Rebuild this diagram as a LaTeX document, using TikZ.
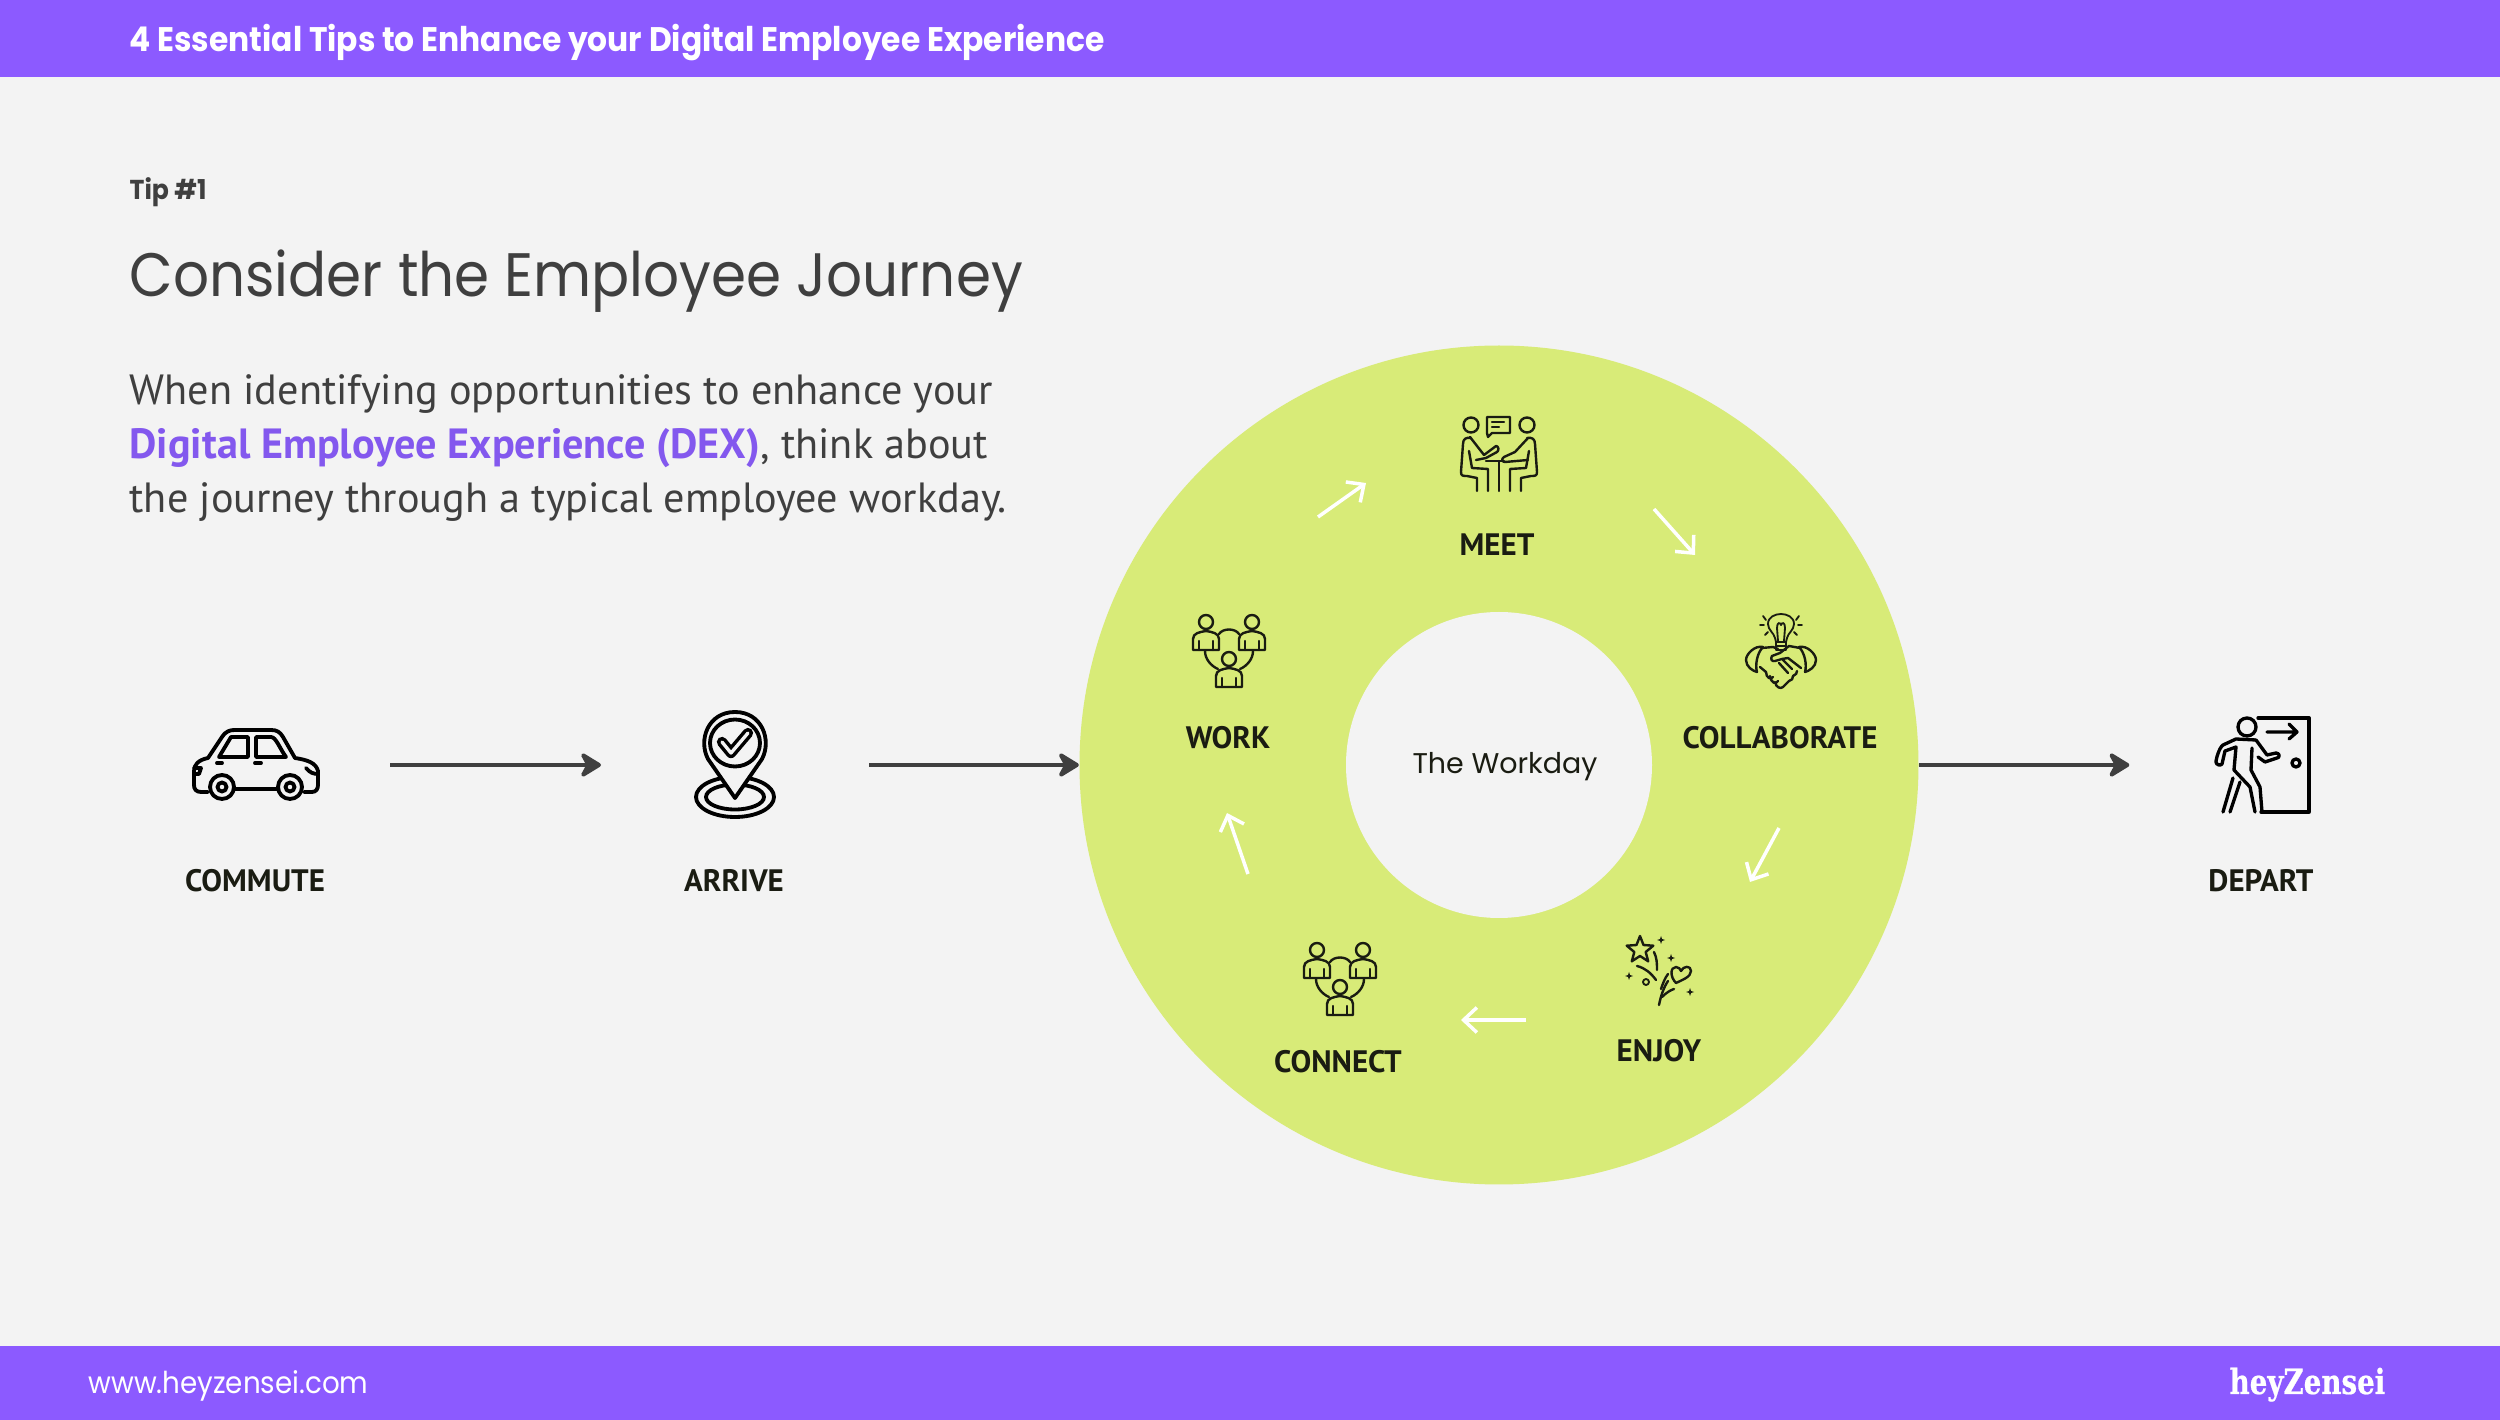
\documentclass[tikz,border=0pt]{standalone}
\usepackage{fontspec}
\setmainfont{PT Sans}
\newfontfamily\popfont{Poppins}
\newfontfamily\narrowfont{Poppins}[FakeStretch=0.92]
\newfontfamily\logofont{DejaVu Serif}[FakeStretch=0.8, FakeBold=0.6]
\usetikzlibrary{arrows.meta}

\definecolor{barcol}{HTML}{8C5AFF}
\definecolor{pagecol}{HTML}{F3F3F3}
\definecolor{ringcol}{HTML}{D8EB78}
\definecolor{inkcol}{HTML}{3F3F3F}
\definecolor{dexcol}{HTML}{8358EE}
\definecolor{labelcol}{HTML}{1A1C12}

\tikzset{
    icon/.style={line width=.72pt, line join=round, line cap=round, labelcol},
    thinicon/.style={line width=.55pt, line join=round, line cap=round, labelcol},
    dooricon/.style={line width=1pt, line join=round, line cap=round, black},
    heavyicon/.style={line width=1.15pt, line join=round, line cap=round, black},
    stepname/.style={font=\bfseries\fontsize{9.3}{11}\selectfont, text=labelcol, inner sep=0pt},
    bodytext/.style={anchor=base west, inner sep=0pt, text=inkcol, font=\fontsize{12.67}{15}\selectfont},
    placeholder/.style={minimum width=80pt, minimum height=20pt, inner sep=0pt},
    flow/.style={-{Stealth[length=7.4pt,width=9pt,round]}, line width=1.2pt, inkcol},
    whitearrow/.style={-{Straight Barb[length=4pt,width=7.5pt]}, line width=1.05pt, white},
    pics/team/.style={code={
        \foreach \px/\py in {-23/-29, 23/-29, 0/8} {
            \draw[icon, shift={(\px,\py)}] (0,0) circle (7);
            \draw[icon, shift={(\px,\py)}] (-13,28) -- (-13,17) .. controls (-13,11) and (-6,10) .. (0,9)
                .. controls (6,10) and (13,11) .. (13,17) -- (13,28) -- cycle;
            \draw[icon, shift={(\px,\py)}] (-7,28) -- (-7,19) (7,28) -- (7,19);
        }
        \draw[icon] (-10,-17) .. controls (-6,-23) and (6,-23) .. (10,-17);
        \draw[icon] (-24,0) .. controls (-24,8) and (-18,15) .. (-11,18);
        \draw[icon] (24,0) .. controls (24,8) and (18,15) .. (11,18);
    }},
    pics/meeting/.style={code={
        \draw[icon] (-12,-37) -- (11,-37) -- (11,-21) -- (-7,-21) -- (-11,-17) -- (-12,-21) -- cycle;
        \draw[icon] (-7,-32) -- (5,-32) (-7,-27) -- (0,-27);
        \draw[icon] (0,7) -- (0,37) (-13,7) -- (5,7);
        \draw[icon] (-29,-17) -- (-15,1) -- (-3,-8) .. controls (0,-8) and (0,-3) .. (-2,-2) -- (-13,4) -- (-23,6);
        \draw[icon] (29,-16) -- (16,-2) -- (5,3) .. controls (2,5) and (3,8) .. (6,8) -- (29,6);
        \foreach \s in {1,-1} {
            \begin{scope}[xscale=\s]
                \draw[icon] (-28,-29) circle (7.5);
                \draw[icon] (-28,-16) .. controls (-33,-17) and (-36,-15) .. (-36,-10) -- (-38,18)
                    .. controls (-38,22) and (-36,22) .. (-32,22) -- (-22,24) -- (-22,37);
                \draw[icon] (-30,-3) -- (-27,14) -- (-11,15) -- (-11,37);
            \end{scope}
        }
    }},
    pics/handshake/.style={code={
        \draw[thinicon] (-5,-1) -- (5,-1) -- (5,-9) -- (-5,-9) -- cycle (-5,-5) -- (5,-5);
        \foreach \s in {1,-1} {
            \begin{scope}[xscale=\s]
                \draw[thinicon] (5,-9) -- (6,-13) .. controls (7,-18) and (13,-21) .. (13,-27)
                    .. controls (13,-34) and (6,-37) .. (0,-37);
                \draw[thinicon] (3,-10) -- (4,-23) .. controls (4,-29) and (1,-29) .. (0,-26);
                \draw[thinicon] (15,-31) -- (18,-35) (17,-26) -- (21,-26) (13,-19) -- (16,-16);
                \draw[icon] (18,-4) .. controls (26,-6) and (35,3) .. (35,9)
                    .. controls (35,16) and (28,20) .. (24,21) .. controls (26,14) and (24,2) .. (18,-4);
            \end{scope}
        }
        \draw[icon] (19,-3) -- (8,-5) -- (-1,2) -- (-9,5) .. controls (-11,8) and (-9,11) .. (-6,10) -- (1,8) -- (7,7) -- (20,17);
        \draw[icon] (-19,-3) -- (-8,-4) -- (-3,-2);
        \draw[icon] (-21,16) -- (-15,21) .. controls (-15,27) and (-10,29) .. (-8,26);
        \draw[icon] (-11,25) .. controls (-10,32) and (-5,34) .. (-3,30);
        \draw[icon] (-6,31) .. controls (-5,37) and (0,38) .. (2,36) -- (8,30);
        \draw[icon] (8,30) .. controls (11,30) and (12,27) .. (12,25);
        \draw[icon] (12,25) .. controls (15,24) and (16,22) .. (16,20);
        \draw[icon] (-2,12) -- (7,22) (2,9) -- (11,18);
    }},
    pics/party/.style={code={
        \draw[icon, shift={(-20,-21)}] (0,-14) -- (3.5,-5) -- (13.3,-4.3) -- (5.7,2) -- (8.2,11.3) -- (0,6)
            -- (-8.2,11.3) -- (-5.7,2) -- (-13.3,-4.3) -- (-3.5,-5) -- cycle;
        \foreach \px/\py in {1/-31, 11/-13, -31/5, 30/21} {
            \fill[labelcol, shift={(\px,\py)}] (0,-4) -- (1,-1) -- (4,0) -- (1,1) -- (0,4) -- (-1,1) -- (-4,0) -- (-1,-1) -- cycle;
        }
        \draw[thinicon] (-14,11) circle (3);
        \draw[icon] (-6,-19) .. controls (-3,-13) and (-3,-7) .. (-3,-1);
        \draw[icon] (-23,-5) .. controls (-15,-3) and (-9,2) .. (-4,9);
        \draw[icon] (16,12) .. controls (10,6) and (10,-4) .. (16,-4) .. controls (19,-4) and (20,-2) .. (21,0)
            .. controls (23,-5) and (31,-6) .. (31,0) .. controls (31,6) and (22,9) .. (16,12) -- cycle;
        \draw[icon] (-1,34) .. controls (1,24) and (4,16) .. (8,10);
        \draw[icon] (1,18) .. controls (3,12) and (5,7) .. (8,3);
        \draw[icon] (2,26) .. controls (7,21) and (11,19) .. (14,18);
    }},
    pics/car/.style={code={
        \draw[heavyicon] (-48,27) -- (-55,27) .. controls (-60,27) and (-62,24) .. (-62,20) -- (-62,6)
            .. controls (-62,0) and (-58,-5) .. (-48,-7) -- (-34,-28) .. controls (-30,-34) and (-26,-35) .. (-21,-35)
            -- (15,-35) .. controls (21,-35) and (24,-33) .. (27,-28) -- (39,-7)
            .. controls (52,-5) and (60,-2) .. (62,6) -- (62,20) .. controls (62,24) and (60,27) .. (56,27) -- (48,27);
        \draw[heavyicon] (-21,24) -- (21,24);
        \draw[heavyicon] (-34,22) circle (12) (-34,22) circle (4.5);
        \draw[heavyicon] (34,22) circle (12) (34,22) circle (4.5);
        \draw[heavyicon] (-37,-8) -- (-25,-28) -- (-8,-28) -- (-8,-8) -- cycle;
        \draw[heavyicon] (0,-8) -- (0,-28) -- (15,-28) .. controls (20,-28) and (24,-16) .. (30,-8) -- cycle;
        \draw[heavyicon] (-39,-2) -- (-34,-2) (-1,-2) -- (5,-2);
        \draw[heavyicon] (-62,3) -- (-55,3) -- (-57,9) -- (-62,9);
        \draw[heavyicon] (50,3) .. controls (54,8) and (58,9) .. (62,9);
    }},
    pics/mappin/.style={code={
        \draw[heavyicon] (0,32) ellipse (39 and 20);
        \draw[heavyicon] (0,32) ellipse (29 and 12.5);
        \draw[heavyicon, fill=pagecol] (0,33) -- (-27,-6) .. controls (-37,-25) and (-27,-53) .. (0,-53)
            .. controls (27,-53) and (37,-25) .. (27,-6) -- cycle;
        \draw[heavyicon] (0,-22) ellipse (25 and 23.5);
        \draw[line width=3.1pt, black, line join=round, line cap=round] (-13,-23) -- (-4,-12) -- (13,-32);
        \draw[line width=1pt, pagecol, line join=round, line cap=round] (-13,-23) -- (-4,-12) -- (13,-32);
    }},
    pics/leaving/.style={code={
        \draw[dooricon] (-2,-47) -- (49,-47) -- (49,47) -- (1,47);
        \draw[dooricon] (-13,-38) circle (9);
        \draw[dooricon] (7,-33) -- (37,-33) (29,-41) -- (37,-33) -- (29,-26);
        \draw[dooricon] (36,-2) circle (4);
        \draw[dooricon] (-4,-25) -- (-24,-26) -- (-37,-20) .. controls (-41,-17) and (-44,-6) .. (-44,-3)
            .. controls (-44,0) and (-39,1) .. (-38,-1) -- (-35,-14) -- (-24,-18) -- (-26,5) -- (-10,22) -- (-5,47);
        \draw[dooricon] (-4,-25) -- (7,-10) -- (16,-12) .. controls (20,-12) and (20,-7) .. (17,-7)
            -- (5,-3) -- (-2,-8);
        \draw[dooricon] (-8,-17) -- (-9,5) -- (0,22) -- (2,47);
        \draw[dooricon] (-27,13) -- (-37,47) (-20,17) -- (-30,47);
    }},
}

\begin{document}
\begin{tikzpicture}[x=0.3pt, y=-0.3pt]

    \useasboundingbox (0,0) rectangle (2500,1420);
    \fill[pagecol] (0,0) rectangle (2500,1420);

    % Bars
    \fill[barcol] (0,0) rectangle (2500,77);
    \fill[barcol] (0,1346) rectangle (2500,1420);
    \node[anchor=base west, inner sep=0pt, text=white, font=\narrowfont\bfseries\fontsize{10.22}{12}\selectfont] (header) at (129,52)
        {4 Essential Tips to Enhance your Digital Employee Experience};
    \node[anchor=base west, inner sep=0pt, text=white, font=\narrowfont\fontsize{9.05}{11}\selectfont] (website) at (88,1394) {www.heyzensei.com};
    \node[anchor=base east, inner sep=0pt, text=white, font=\logofont\bfseries\fontsize{10.4}{12}\selectfont] (logo) at (2386,1394) {heyZensei};

    % Text
    \node[anchor=base west, inner sep=0pt, text=inkcol, font=\narrowfont\bfseries\fontsize{8.2}{10}\selectfont] (tip) at (129,200) {Tip \#1};
    \node[anchor=base west, inner sep=0pt, text=inkcol, font=\narrowfont\fontsize{18.4}{22}\selectfont] (title) at (129,297) {Consider the Employee Journey};
    \node[bodytext] (line1) at (129,405) {When identifying opportunities to enhance your};
    \node[bodytext] (line2) at (129,459) {\textcolor{dexcol}{\bfseries Digital Employee Experience (DEX)}, think about};
    \node[bodytext] (line3) at (129,513) {the journey through a typical employee workday.};

    % Ring
    \node[circle, fill=ringcol, minimum size=251.7pt, inner sep=0pt] (ring) at (1499,765) {};
    \node[circle, fill=pagecol, minimum size=91.8pt, inner sep=0pt] (hole) at (1499,765) {};
    \node[text=labelcol, inner sep=0pt, font=\popfont\fontsize{8.55}{10}\selectfont] (workday) at (1505,767) {The Workday};

    % Journey
    \node[placeholder] (commute) at (256,765) {};
    \node[placeholder] (arrive) at (735,765) {};
    \node[placeholder, minimum width=78pt] (depart) at (2260,765) {};
    \pic at (256,765) {car};
    \pic at (735,765) {mappin};
    \pic at (2260,765) {leaving};
    \draw[flow] (commute) -- (arrive);
    \draw[flow] (arrive) -- (ring);
    \draw[flow] (ring) -- (depart);
    \node[stepname] (commutename) at (255,881) {COMMUTE};
    \node[stepname] (arrivename) at (734,881) {ARRIVE};
    \node[stepname] (departname) at (2261,881) {DEPART};

    % Steps of the workday
    \pic at (1229,651) {team};
    \pic at (1499,454) {meeting};
    \pic at (1781,651) {handshake};
    \pic at (1660,971) {party};
    \pic at (1340,979) {team};
    \node[stepname] (workname) at (1228,738) {WORK};
    \node[stepname] (meetname) at (1497,545) {MEET};
    \node[stepname] (collabname) at (1780,738) {COLLABORATE};
    \node[stepname] (enjoyname) at (1659,1051) {ENJOY};
    \node[stepname] (connectname) at (1338,1062) {CONNECT};

    % White arrows
    \coordinate (a1) at (1318,517);
    \coordinate (a2) at (1366,483);
    \coordinate (b1) at (1654,509);
    \coordinate (b2) at (1695,555);
    \coordinate (c1) at (1779,828);
    \coordinate (c2) at (1750,882);
    \coordinate (d1) at (1526,1020);
    \coordinate (d2) at (1461,1020);
    \coordinate (e1) at (1248,874);
    \coordinate (e2) at (1227,813);
    \draw[whitearrow] (a1) -- (a2);
    \draw[whitearrow] (b1) -- (b2);
    \draw[whitearrow] (c1) -- (c2);
    \draw[whitearrow] (d1) -- (d2);
    \draw[whitearrow] (e1) -- (e2);

\end{tikzpicture}
\end{document}
